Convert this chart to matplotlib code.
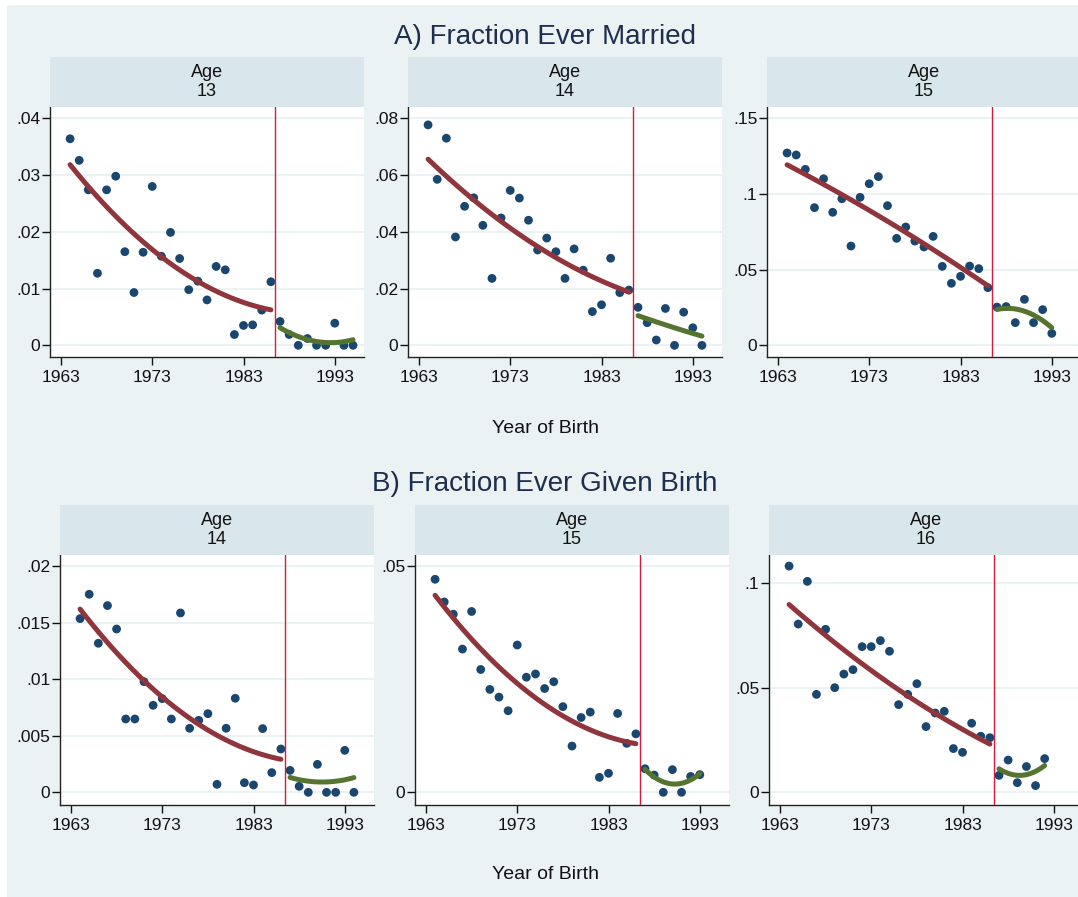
import numpy as np
import matplotlib
matplotlib.use("Agg")
import matplotlib.pyplot as plt

plt.rcParams['font.family'] = ['Liberation Sans', 'DejaVu Sans']

# birth cohorts, 1964 onwards
cutoff = 1986.5

married_13 = [0.0364, 0.0326, 0.0274, 0.0127, 0.0274, 0.0298, 0.0165, 0.0093,
              0.0164, 0.0280, 0.0157, 0.0199, 0.0153, 0.0098, 0.0113, 0.0080,
              0.0139, 0.0133, 0.0019, 0.0035, 0.0036, 0.0062, 0.0112, 0.0042,
              0.0019, 0.0, 0.0012, 0.0, 0.0, 0.0039, 0.0, 0.0]
married_14 = [0.0777, 0.0585, 0.0730, 0.0382, 0.0490, 0.0520, 0.0423, 0.0236,
              0.0449, 0.0546, 0.0519, 0.0441, 0.0336, 0.0378, 0.0330, 0.0236,
              0.0340, 0.0265, 0.0119, 0.0143, 0.0307, 0.0186, 0.0195, 0.0134,
              0.0080, 0.0019, 0.0130, 0.0, 0.0117, 0.0062, 0.0]
married_15 = [0.1271, 0.1258, 0.1163, 0.0910, 0.1101, 0.0879, 0.0969, 0.0656,
              0.0978, 0.1068, 0.1115, 0.0923, 0.0707, 0.0782, 0.0689, 0.0650,
              0.0720, 0.0522, 0.0410, 0.0456, 0.0524, 0.0507, 0.0381, 0.0253,
              0.0256, 0.0150, 0.0304, 0.0150, 0.0236, 0.0079]

birth_14 = [0.01535, 0.0175, 0.01317, 0.0165, 0.01443, 0.00648, 0.00648, 0.00978,
            0.00769, 0.00828, 0.00648, 0.01585, 0.00566, 0.00636, 0.00695, 0.00071,
            0.00566, 0.00831, 0.00085, 0.00065, 0.00563, 0.00174, 0.00383, 0.00194,
            0.00053, 0.0, 0.00247, 0.0, 0.0, 0.00371, 0.0]
birth_15 = [0.0470, 0.0420, 0.0393, 0.0316, 0.0399, 0.0271, 0.0227, 0.0210,
            0.0180, 0.0325, 0.0254, 0.0261, 0.0229, 0.0244, 0.0189, 0.0102,
            0.0165, 0.0177, 0.0033, 0.0042, 0.0174, 0.0108, 0.0129, 0.0052,
            0.0038, 0.0, 0.0050, 0.0, 0.0035, 0.0039]
birth_16 = [0.1081, 0.0804, 0.1008, 0.0468, 0.0779, 0.0500, 0.0565, 0.0586,
            0.0696, 0.0696, 0.0725, 0.0674, 0.0419, 0.0468, 0.0519, 0.0314,
            0.0379, 0.0387, 0.0209, 0.0191, 0.0330, 0.0268, 0.0261, 0.0081,
            0.0154, 0.0046, 0.0123, 0.0032, 0.0161]

ages_a = [13, 14, 15]
ages_b = [14, 15, 16]

yticks_a = [[0, 0.01, 0.02, 0.03, 0.04], [0, 0.02, 0.04, 0.06, 0.08], [0, 0.05, 0.1, 0.15]]
ylabels_a = [['0', '.01', '.02', '.03', '.04'], ['0', '.02', '.04', '.06', '.08'], ['0', '.05', '.1', '.15']]
yticks_b = [[0, 0.005, 0.01, 0.015, 0.02], [0, 0.05], [0, 0.05, 0.1]]
ylabels_b = [['0', '.005', '.01', '.015', '.02'], ['0', '.05'], ['0', '.05', '.1']]
ylims_a = [(-0.00206, 0.042), (-0.0041, 0.084), (-0.0077, 0.1575)]
ylims_b = [(-0.00112, 0.02097), (-0.0028, 0.05236), (-0.00607, 0.1134)]

xticks = [1963, 1973, 1983, 1993]

BG = '#EAF2F3'
STRIP = '#D9E6EB'
NAVY = '#1A476F'
MAROON = '#90353B'
GREEN = '#55752F'
VLINE = '#D81B3C'
TITLE = '#1F2E4F'

W, H = 1078, 897
fig = plt.figure(figsize=(W / 100, H / 100), dpi=100, facecolor='white')
# graph region background (small white margin top/left)
fig.patches.append(plt.Rectangle((7 / W, 0), 1, 1 - 5 / H, transform=fig.transFigure,
                                 facecolor=BG, edgecolor='none', zorder=-10))


def qfit(ax, x, y, color):
    # quadratic fit like Stata's qfit
    c = np.polyfit(x, y, 2)
    xs = np.linspace(x.min(), x.max(), 100)
    ax.plot(xs, np.polyval(c, xs), color=color, lw=3.6, solid_capstyle='round', zorder=4)


def panel(left, top, values, age, ticks, labels, ylim):
    width, height = 314, 250
    ax = fig.add_axes([left / W, 1 - (top + height) / H, width / W, height / H])
    ax.set_facecolor('white')

    y = np.array(values)
    x = np.arange(1964, 1964 + len(y))
    pre = x < cutoff

    ax.scatter(x, y, s=40, color=NAVY, edgecolors='none', zorder=3)
    qfit(ax, x[pre], y[pre], MAROON)
    qfit(ax, x[~pre], y[~pre], GREEN)
    ax.axvline(cutoff, color=VLINE, lw=1.0, zorder=5)

    ax.set_xlim(1961.8, 1996.2)
    ax.set_ylim(*ylim)
    ax.set_xticks(xticks)
    ax.set_yticks(ticks)
    ax.set_yticklabels(labels)
    ax.grid(axis='y', color=BG, lw=1.5)
    ax.set_axisbelow(True)
    for s in ['top', 'right']:
        ax.spines[s].set_visible(False)
    for s in ['left', 'bottom']:
        ax.spines[s].set_color('#222222')
        ax.spines[s].set_linewidth(1.0)
    ax.tick_params(axis='x', length=5.5, width=1, pad=4, labelsize=12.5, colors='#111111')
    ax.tick_params(axis='y', length=5.5, width=1, pad=1.5, labelsize=12.5, colors='#111111')

    # facet strip above the plot
    sx = fig.add_axes([left / W, 1 - top / H, width / W, 50 / H])
    sx.set_facecolor(STRIP)
    sx.set_xticks([])
    sx.set_yticks([])
    for s in sx.spines.values():
        s.set_visible(False)
    sx.text(0.5, 0.5, 'Age\n%d' % age, ha='center', va='center', fontsize=13,
            linespacing=1.1, transform=sx.transAxes, color='#111111')
    return ax


lefts_a = [50, 408, 767]
for i in range(3):
    vals = [married_13, married_14, married_15][i]
    panel(lefts_a[i], 107, vals, ages_a[i], yticks_a[i], ylabels_a[i], ylims_a[i])

lefts_b = [60, 415, 769]
for i in range(3):
    vals = [birth_14, birth_15, birth_16][i]
    panel(lefts_b[i], 555, vals, ages_b[i], yticks_b[i], ylabels_b[i], ylims_b[i])

fig.text(545 / W, 1 - 37 / H, 'A) Fraction Ever Married', ha='center', va='center',
         fontsize=20, color=TITLE)
fig.text(545 / W, 1 - 484 / H, 'B) Fraction Ever Given Birth', ha='center', va='center',
         fontsize=20, color=TITLE)
fig.text(545 / W, 1 - 428 / H, 'Year of Birth', ha='center', va='center', fontsize=14, color='#111111')
fig.text(545 / W, 1 - 874 / H, 'Year of Birth', ha='center', va='center', fontsize=14, color='#111111')

fig.savefig('out.png', dpi=100, facecolor='white')
